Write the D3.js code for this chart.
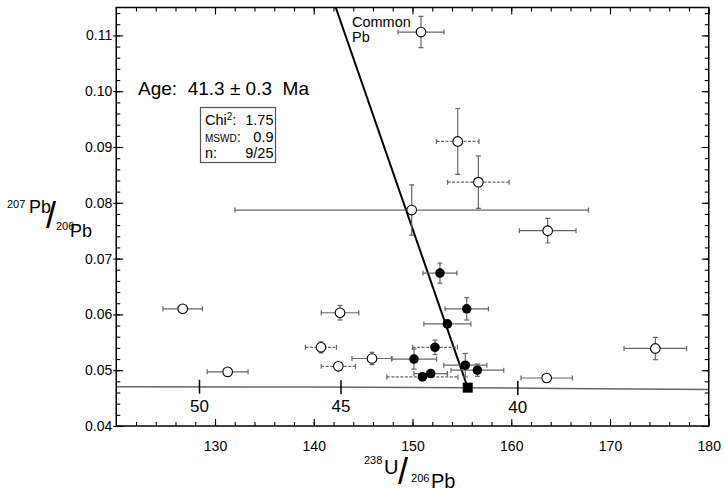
<!DOCTYPE html>
<html>
<head>
<meta charset="utf-8">
<script src="https://cdn.jsdelivr.net/npm/d3@7"></script>
<style>
  body { margin: 0; background: #fff; }
  svg { font-family: "Liberation Sans", Arial, Helvetica, sans-serif; }
</style>
</head>
<body>
<svg id="chart" width="725" height="491"></svg>
<script>
// rejected analyses (open circles): [238U/206Pb, 207Pb/206Pb, err x, err y]
const rejected = [
  [150.86, 0.1106, 2.33, 0.0028],
  [154.58, 0.0910, 2.15, 0.0059],
  [156.67, 0.0837, 3.12, 0.0047],
  [149.92, 0.0787, 17.9, 0.0045],
  [163.69, 0.0750, 2.87, 0.0022],
  [126.73, 0.0610, 2.0, 0.0004],
  [142.66, 0.0603, 1.9, 0.0013],
  [140.73, 0.0541, 1.57, 0.0010],
  [145.90, 0.0521, 2.03, 0.0011],
  [131.28, 0.0497, 2.07, 0.0003],
  [142.49, 0.0507, 1.73, 0.0004],
  [163.59, 0.0486, 2.6, 0.0004],
  [174.59, 0.0539, 3.17, 0.0020]
];
const rejectedDashed = [1, 2, 7, 10];

// accepted analyses (filled circles)
const accepted = [
  [152.78, 0.0674, 1.72, 0.0018],
  [155.49, 0.0610, 2.2, 0.0020],
  [153.53, 0.0583, 2.38, 0.0007],
  [152.28, 0.0541, 2.27, 0.0013],
  [150.15, 0.0520, 2.28, 0.0018],
  [155.35, 0.0509, 2.18, 0.0021],
  [156.57, 0.0500, 2.67, 0.0011],
  [151.84, 0.0494, 1.69, 0.0006],
  [151.00, 0.0488, 3.6, 0.0004]
];
const acceptedDashed = [3, 8];

// lower intercept and the regression line towards common Pb
const intercept = [155.59, 0.04687];
const discordia = [[142.23, 0.115], [155.59, 0.04687]];

// Tera-Wasserburg concordia
const concordia = [[120, 0.04705], [140, 0.04697], [155.6, 0.04687], [165, 0.04672], [180, 0.04655]];
const ageTicks = [[50, 128.43, 0.04702], [45, 142.76, 0.04696], [40, 160.66, 0.04680]];

const xMajor = [130, 140, 150, 160, 170, 180];
const yMajor = [0.04, 0.05, 0.06, 0.07, 0.08, 0.09, 0.10, 0.11];

const stats = [["Chi", "1.75"], ["MSWD", "0.9"], ["n:", "9/25"]];

const svg = d3.select("#chart");
const L = 116.25, R = 708.75, T = 7.5, B = 426;
const x = d3.scaleLinear().domain([120, 180]).range([L, R]);
const y = d3.scaleLinear().domain([0.04, 0.115]).range([B, T]);

svg.append("clipPath").attr("id", "clip")
  .append("rect").attr("x", L).attr("y", T).attr("width", R - L).attr("height", B - T);

const plot = svg.append("g").attr("clip-path", "url(#clip)");

// concordia
plot.append("path")
  .datum(concordia)
  .attr("d", d3.line(d => x(d[0]), d => y(d[1])))
  .attr("fill", "none")
  .attr("stroke", "#666")
  .attr("stroke-width", 1.5);

plot.selectAll("line.age").data(ageTicks).join("line")
  .attr("x1", d => x(d[1])).attr("x2", d => x(d[1]))
  .attr("y1", d => y(d[2]) - 7).attr("y2", d => y(d[2]) + 7)
  .attr("stroke", "#000").attr("stroke-width", 1.5);

svg.selectAll("text.age").data(ageTicks).join("text")
  .attr("x", d => x(d[1])).attr("y", d => y(d[2]) + 25)
  .attr("text-anchor", "middle")
  .attr("font-size", 17)
  .text(d => d[0]);

// discordia
plot.append("path")
  .datum(discordia)
  .attr("d", d3.line(d => x(d[0]), d => y(d[1])))
  .attr("stroke", "#000")
  .attr("stroke-width", 2);

// error bars
function errorBars(data, dashed) {
  const g = plot.append("g").attr("stroke", "#666").attr("stroke-width", 1.2);
  const cap = 2.5;
  data.forEach((d, i) => {
    const cx = x(d[0]), cy = y(d[1]);
    const x0 = x(d[0] - d[2]), x1 = x(d[0] + d[2]);
    const y0 = y(d[1] - d[3]), y1 = y(d[1] + d[3]);
    g.append("line").attr("x1", x0).attr("x2", x1).attr("y1", cy).attr("y2", cy)
      .attr("stroke-dasharray", dashed.includes(i) ? "3,1.5" : null);
    g.append("line").attr("x1", x0).attr("x2", x0).attr("y1", cy - cap).attr("y2", cy + cap);
    g.append("line").attr("x1", x1).attr("x2", x1).attr("y1", cy - cap).attr("y2", cy + cap);
    if (cy - y1 > 4) {
      g.append("line").attr("x1", cx).attr("x2", cx).attr("y1", y0).attr("y2", y1);
      g.append("line").attr("x1", cx - cap).attr("x2", cx + cap).attr("y1", y0).attr("y2", y0);
      g.append("line").attr("x1", cx - cap).attr("x2", cx + cap).attr("y1", y1).attr("y2", y1);
    }
  });
}
errorBars(rejected, rejectedDashed);
errorBars(accepted, acceptedDashed);

plot.selectAll("circle.rej").data(rejected).join("circle")
  .attr("cx", d => x(d[0])).attr("cy", d => y(d[1])).attr("r", 4.8)
  .attr("fill", "#fff").attr("stroke", "#000").attr("stroke-width", 1.1);

plot.selectAll("circle.acc").data(accepted).join("circle")
  .attr("cx", d => x(d[0])).attr("cy", d => y(d[1])).attr("r", 4.8)
  .attr("fill", "#000");

plot.append("rect")
  .attr("x", x(intercept[0]) - 5).attr("y", y(intercept[1]) - 5)
  .attr("width", 10).attr("height", 10).attr("fill", "#000");

// axes: labels outside, ticks inside
const ax = svg.append("g");
ax.append("g").attr("transform", `translate(0,${B})`)
  .call(d3.axisBottom(x).tickValues(d3.range(122, 180, 2)).tickSize(-4).tickFormat(""));
ax.append("g").attr("transform", `translate(0,${B})`)
  .call(d3.axisBottom(x).tickValues(xMajor).tickSize(-7).tickPadding(15).tickFormat(d3.format("d")));
ax.append("g").attr("transform", `translate(0,${T})`)
  .call(d3.axisTop(x).tickValues(d3.range(122, 180, 2)).tickSize(-4).tickFormat(""));
ax.append("g").attr("transform", `translate(0,${T})`)
  .call(d3.axisTop(x).tickValues(xMajor).tickSize(-7).tickFormat(""));

const yMinor = d3.range(0.042, 0.115, 0.002);
ax.append("g").attr("transform", `translate(${L},0)`)
  .call(d3.axisLeft(y).tickValues(yMinor).tickSize(-4).tickFormat(""));
ax.append("g").attr("transform", `translate(${L},0)`)
  .call(d3.axisLeft(y).tickValues(yMajor).tickSize(-7).tickFormat(""));
ax.append("g").attr("transform", `translate(${L},0)`)
  .call(d3.axisLeft(y).tickValues(yMajor).tickSize(3).tickPadding(1).tickFormat(d3.format(".2f")));
ax.append("g").attr("transform", `translate(${R},0)`)
  .call(d3.axisRight(y).tickValues(yMinor).tickSize(-4).tickFormat(""));
ax.append("g").attr("transform", `translate(${R},0)`)
  .call(d3.axisRight(y).tickValues(yMajor).tickSize(-7).tickFormat(""));

ax.selectAll(".domain").remove();
ax.selectAll("line").attr("stroke", "#000").attr("stroke-width", 1.1);
ax.selectAll("g").attr("font-family", null).attr("font-size", null);
ax.selectAll("text").attr("fill", "#000").attr("font-size", 14);

svg.append("rect").attr("x", L).attr("y", T).attr("width", R - L).attr("height", B - T)
  .attr("fill", "none").attr("stroke", "#000").attr("stroke-width", 1.5);

// annotations
svg.append("text").attr("x", 138).attr("y", 95).attr("font-size", 19)
  .attr("xml:space", "preserve").style("white-space", "pre")
  .text("Age:  41.3 \u00b1 0.3  Ma");

svg.append("rect").attr("x", 200.5).attr("y", 107.5).attr("width", 75).attr("height", 55)
  .attr("fill", "#fff").attr("stroke", "#555").attr("stroke-width", 1.2);

const st = svg.append("g").attr("font-size", 14.5);
const rowY = [125, 141.5, 158];
const chi = st.append("text").attr("x", 205).attr("y", rowY[0]);
chi.append("tspan").text(stats[0][0]);
chi.append("tspan").attr("font-size", 10).attr("dy", -5).text("2");
chi.append("tspan").attr("dy", 5).text(":");
const ms = st.append("text").attr("x", 205).attr("y", rowY[1]);
ms.append("tspan").attr("font-size", 10).text(stats[1][0]);
ms.append("tspan").text(":");
st.append("text").attr("x", 205).attr("y", rowY[2]).text(stats[2][0]);
st.selectAll("text.val").data(stats).join("text")
  .attr("x", 273.5).attr("y", (d, i) => rowY[i])
  .attr("text-anchor", "end").text(d => d[1]);

svg.append("text").attr("x", 352).attr("y", 27).attr("font-size", 14.5).text("Common");
svg.append("text").attr("x", 352).attr("y", 42).attr("font-size", 14.5).text("Pb");

// axis titles as single texts with shifted pieces
function ratioTitle(x0, y0, parts) {
  const t = svg.append("text").attr("x", x0).attr("y", y0);
  parts.forEach(p => t.append("tspan")
    .attr("font-size", p[1]).attr("dx", p[2]).attr("dy", p[3]).text(p[0]));
}
ratioTitle(7, 208, [["207", 11, 0, 0], ["Pb", 18, 3.6, 5], ["/", 36, -5, 15], ["206", 11, 0, 2], ["Pb", 18, -4.4, 7]]);
ratioTitle(364, 464, [["238", 11, 0, 0], ["U", 20, 1.6, 10], ["/", 36, -0.4, 10], ["206", 11, 3, -2], ["Pb", 20, 1.6, 6]]);
</script>
</body>
</html>
